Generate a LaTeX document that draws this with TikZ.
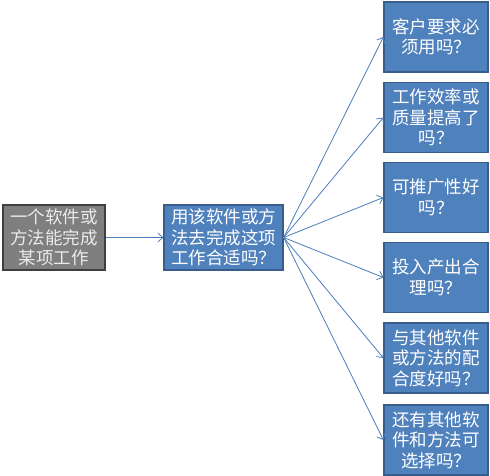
\documentclass[tikz,border=0pt]{standalone}
\usepackage{fontspec}
\newfontfamily\cjk{Noto Sans CJK SC}
\usetikzlibrary{arrows.meta}
\definecolor{boxblue}{HTML}{4F81BD}
\definecolor{boxedge}{HTML}{385D8A}
\definecolor{linkblue}{HTML}{4A7EBB}
\definecolor{boxgray}{HTML}{7F7F7F}
\definecolor{grayedge}{HTML}{3F3F3F}
\tikzset{
  x=1pt,y=-1pt,
  basebox/.style={draw, line width=1.2pt, text=white, align=center, inner sep=0pt,
     font=\cjk\fontsize{17.5}{20.5}\selectfont},
  bluebox/.style={basebox, fill=boxblue, draw=boxedge},
  graybox/.style={basebox, fill=boxgray, draw=grayedge, text=white!92!black},
  rbox/.style={bluebox, minimum width=104pt, minimum height=70pt},
  link/.style={draw=linkblue, line width=0.8pt, -{Straight Barb[length=5pt,width=9pt]}}
}
\begin{document}
\begin{tikzpicture}
\useasboundingbox (0,0) rectangle (490,476);
\node[graybox, minimum width=102pt, minimum height=65pt] (src) at (54,237.5) {一个软件或\\方法能完成\\某项工作};
\node[bluebox, minimum width=119pt, minimum height=65pt] (mid) at (223.5,237.5) {用该软件或方\\法去完成这项\\工作合适吗？};
\node[rbox] (r1) at (436,37) {客户要求必\\须用吗？};
\node[rbox] (r2) at (436,117.5) {工作效率或\\质量提高了\\吗？};
\node[rbox] (r3) at (436,197.5) {可推广性好\\吗？};
\node[rbox] (r4) at (436,277.5) {投入产出合\\理吗？};
\node[rbox] (r5) at (436,358) {与其他软件\\或方法的配\\合度好吗？};
\node[rbox] (r6) at (436,440) {还有其他软\\件和方法可\\选择吗？};
\draw[link] (src) -- (mid);
\foreach \i in {1,...,6} { \draw[link] (mid.east) -- (r\i.west); }
\end{tikzpicture}
\end{document}
